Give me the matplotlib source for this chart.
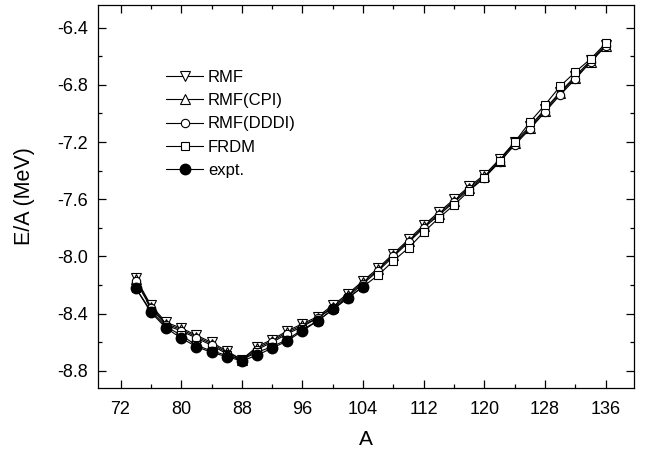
"""Binding energy per nucleon of Sr isotopes: RMF variants vs FRDM vs experiment."""
import matplotlib
matplotlib.use("Agg")
import matplotlib.pyplot as plt
from matplotlib.ticker import MultipleLocator, FormatStrFormatter

plt.rcParams["font.family"] = ["Liberation Sans", "DejaVu Sans"]
plt.rcParams["axes.unicode_minus"] = False

# mass numbers
A_th = [74, 76, 78, 80, 82, 84, 86, 88, 90, 92, 94, 96, 98, 100, 102, 104,
        106, 108, 110, 112, 114, 116, 118, 120, 122, 124, 126, 128, 130, 132, 134, 136]
A_exp = [74, 76, 78, 80, 82, 84, 86, 88, 90, 92, 94, 96, 98, 100, 102, 104]

# E/A (MeV)
rmf = [-8.15, -8.34, -8.46, -8.50, -8.55, -8.60, -8.66, -8.72, -8.63, -8.58, -8.52,
       -8.47, -8.42, -8.34, -8.26, -8.17, -8.08, -7.98, -7.88, -7.78, -7.69, -7.60,
       -7.51, -7.43, -7.32, -7.20, -7.09, -6.97, -6.85, -6.74, -6.63, -6.52]
rmf_cpi = [-8.16, -8.35, -8.47, -8.51, -8.56, -8.61, -8.67, -8.72, -8.64, -8.59, -8.53,
           -8.48, -8.43, -8.35, -8.27, -8.18, -8.09, -7.99, -7.89, -7.79, -7.70, -7.61,
           -7.52, -7.44, -7.33, -7.21, -7.10, -6.98, -6.86, -6.75, -6.64, -6.53]
rmf_dddi = [-8.17, -8.36, -8.48, -8.52, -8.57, -8.62, -8.68, -8.73, -8.65, -8.60, -8.54,
            -8.49, -8.43, -8.36, -8.28, -8.19, -8.10, -8.00, -7.90, -7.80, -7.71, -7.62,
            -7.53, -7.45, -7.34, -7.22, -7.11, -6.99, -6.87, -6.76, -6.64, -6.53]
frdm = [-8.22, -8.38, -8.49, -8.55, -8.62, -8.66, -8.69, -8.72, -8.67, -8.63, -8.58,
        -8.51, -8.45, -8.37, -8.29, -8.21, -8.13, -8.03, -7.94, -7.83, -7.73, -7.64,
        -7.54, -7.45, -7.33, -7.20, -7.06, -6.94, -6.81, -6.71, -6.62, -6.51]
expt = [-8.22, -8.39, -8.50, -8.57, -8.63, -8.67, -8.70, -8.73, -8.69, -8.64, -8.59,
        -8.52, -8.45, -8.37, -8.29, -8.21]


def main():
    fig = plt.figure(figsize=(6.52, 4.61), dpi=100)
    ax = fig.add_axes([0.150, 0.158, 0.822, 0.832])

    kw = dict(color="black", lw=0.8, mew=0.8, mfc="white", mec="black")
    ax.plot(A_th, rmf, marker="v", ms=7, label="RMF", **kw)
    ax.plot(A_th, rmf_cpi, marker="^", ms=7, label="RMF(CPI)", **kw)
    ax.plot(A_th, rmf_dddi, marker="o", ms=6, label="RMF(DDDI)", **kw)
    ax.plot(A_th, frdm, marker="s", ms=6, label="FRDM", **kw)
    ax.plot(A_exp, expt, marker="o", ms=7.5, color="black", lw=0.8,
            mfc="black", mec="black", label="expt.")

    ax.set_xlim(69, 139.7)
    ax.set_ylim(-8.92, -6.24)
    ax.xaxis.set_major_locator(MultipleLocator(8))
    ax.xaxis.set_minor_locator(MultipleLocator(4))
    ax.yaxis.set_major_locator(MultipleLocator(0.4))
    ax.yaxis.set_minor_locator(MultipleLocator(0.2))
    ax.yaxis.set_major_formatter(FormatStrFormatter("%.1f"))
    ax.tick_params(which="both", direction="in", top=True, right=True,
                   labelsize=13, width=0.9)
    ax.tick_params(which="major", length=6)
    ax.tick_params(which="minor", length=3)
    ax.tick_params(axis="x", pad=9)
    ax.tick_params(axis="y", pad=7)
    for s in ax.spines.values():
        s.set_linewidth(0.9)

    ax.set_xlabel("A", fontsize=15, labelpad=9)
    ax.set_ylabel("E/A (MeV)", fontsize=15.5, labelpad=16)

    ax.legend(loc="upper left", bbox_to_anchor=(0.128, 0.83), frameon=False,
              fontsize=12, handlelength=2.2, handletextpad=0.3,
              labelspacing=0.5, borderpad=0, borderaxespad=0)

    fig.savefig("out.png", dpi=100)
    plt.close(fig)


if __name__ == "__main__":
    main()
